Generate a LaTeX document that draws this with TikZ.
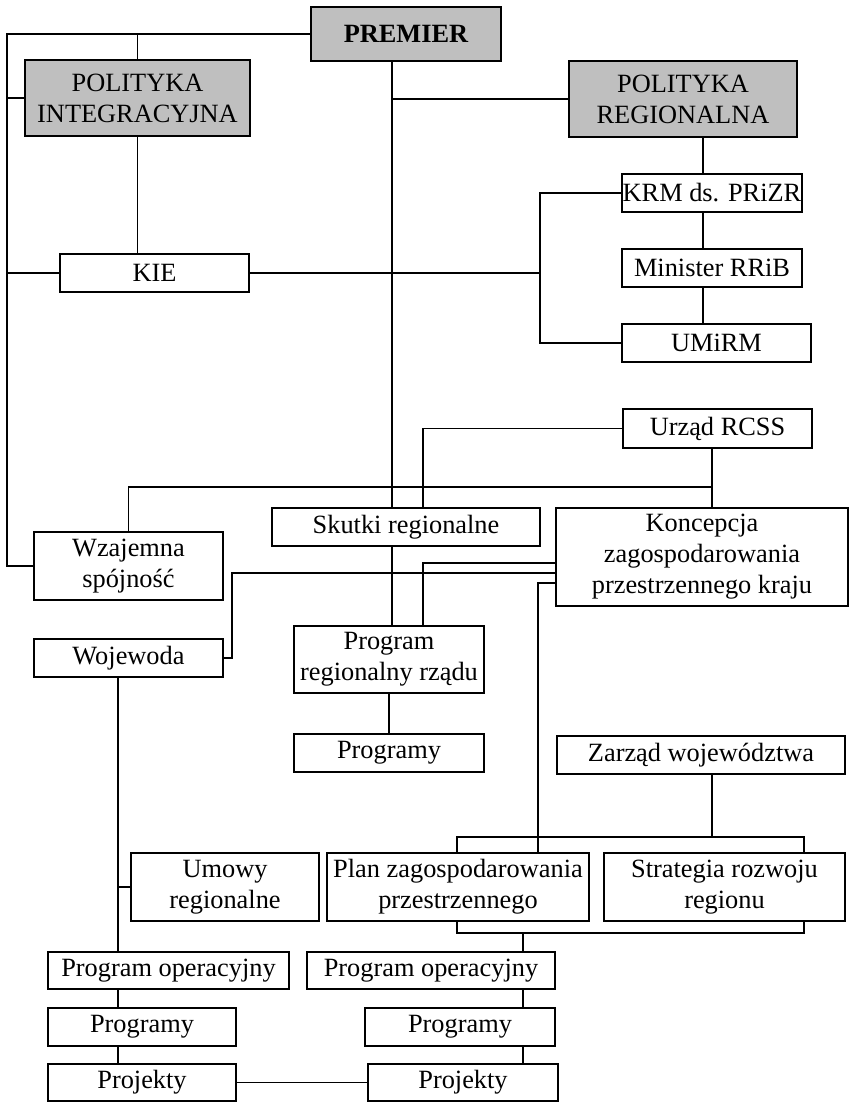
\documentclass[tikz,border=0pt]{standalone}
\usepackage{fontspec}
\setmainfont{Liberation Serif}
\usetikzlibrary{calc,positioning}

\begin{document}
\begin{tikzpicture}[x=0.02cm, y=-0.02cm, line width=0.8pt,
	org box/.style = {draw, fill=white,
                   align=center, inner sep=0pt,
                   font=\fontsize{15pt}{17.6pt}\selectfont},
	grey box/.style = {org box, fill=gray!50}
                   ]
\useasboundingbox (0,0) rectangle (849,1102);

% boxes
\node[grey box, minimum width=3.8cm, minimum height=1.08cm, font=\fontsize{15pt}{17.6pt}\selectfont\bfseries] (prem) at (406,34) {PREMIER};
\node[grey box, minimum width=4.5cm, minimum height=1.52cm] (polint) at (137.5,98) {POLITYKA\\INTEGRACYJNA};
\node[grey box, minimum width=4.56cm, minimum height=1.52cm] (polreg) at (683,99) {POLITYKA\\REGIONALNA};
\node[org box, minimum width=3.6cm, minimum height=0.76cm] (krm) at (712,193) {KRM ds. PRiZR};
\node[org box, minimum width=3.6cm, minimum height=0.76cm] (minis) at (712,268) {Minister RRiB};
\node[org box, minimum width=3.78cm, minimum height=0.76cm] (umirm) at (716.5,343) {UMiRM};
\node[org box, minimum width=3.78cm, minimum height=0.76cm] (kie) at (154.5,273) {KIE};
\node[org box, minimum width=3.78cm, minimum height=0.78cm] (rcss) at (717.5,428.5) {Urząd RCSS};
\node[org box, minimum width=5.36cm, minimum height=0.76cm] (skutki) at (406,527) {Skutki regionalne};
\node[org box, minimum width=5.84cm, minimum height=1.96cm] (konc) at (702,557) {Koncepcja\\zagospodarowania\\przestrzennego kraju};
\node[org box, minimum width=3.78cm, minimum height=1.36cm] (wzaj) at (128.5,566) {Wzajemna\\spójność};
\node[org box, minimum width=3.78cm, minimum height=0.76cm] (woj) at (128.5,658) {Wojewoda};
\node[org box, minimum width=3.8cm, minimum height=1.34cm] (prr) at (389,659.5) {Program\\regionalny rządu};
\node[org box, minimum width=3.8cm, minimum height=0.76cm] (progm) at (389,753) {Programy};
\node[org box, minimum width=5.76cm, minimum height=0.76cm] (zarz) at (701,755) {Zarząd województwa};
\node[org box, minimum width=3.76cm, minimum height=1.36cm] (umowy) at (225,887) {Umowy\\regionalne};
\node[org box, minimum width=5.24cm, minimum height=1.36cm] (plan) at (458,887) {Plan zagospodarowania\\przestrzennego};
\node[org box, minimum width=4.82cm, minimum height=1.36cm] (strat) at (724.5,887) {Strategia rozwoju\\regionu};
\node[org box, minimum width=4.82cm, minimum height=0.74cm] (opl) at (168.5,970.5) {Program operacyjny};
\node[org box, minimum width=4.96cm, minimum height=0.74cm] (opr) at (431,970.5) {Program operacyjny};
\node[org box, minimum width=3.76cm, minimum height=0.76cm] (pgl) at (142,1027) {Programy};
\node[org box, minimum width=3.8cm, minimum height=0.76cm] (pgr) at (460,1027) {Programy};
\node[org box, minimum width=3.76cm, minimum height=0.74cm] (pjl) at (142,1082.5) {Projekty};
\node[org box, minimum width=3.8cm, minimum height=0.74cm] (pjr) at (463,1082.5) {Projekty};

% vertical rails
\coordinate (lft) at (7,0);
\coordinate (pv) at (392,0);
\coordinate (sv) at (423,0);
\coordinate (kv) at (540,0);
\coordinate (mv) at (538,0);
\coordinate (rv) at (703,0);
\coordinate (cv) at (712,0);
\coordinate (wv) at (232,0);
\coordinate (lv) at (118,0);
\coordinate (ov) at (523,0);
\coordinate (hz) at (0,487);
\coordinate (ba) at (457,837);
\coordinate (bb) at (804,837);
\coordinate (ca) at (457,933);
\coordinate (cb) at (804,933);

% left frame
\draw (prem.west) -| (lft |- wzaj.west) -- (wzaj.west);
\draw (polint.north) -- (polint.north |- prem.west);
\draw (polint.west) -- (polint.west -| lft);
\draw (kie.west) -- (kie.west -| lft);
\draw (polint.south) -- (polint.south |- kie.north);

% premier line
\draw (pv |- prem.south) -- (pv |- skutki.north);
\draw (pv |- skutki.south) -- (pv |- prr.north);
\draw (polreg.west) -- (polreg.west -| pv);

% regional branch
\draw (rv |- polreg.south) -- (rv |- krm.north);
\draw (rv |- krm.south) -- (rv |- minis.north);
\draw (rv |- minis.south) -- (rv |- umirm.north);
\draw (krm.west) -| (kv |- umirm.west) -- (umirm.west);
\draw (kie.east) -- (kie.east -| kv);

% RCSS
\draw (rcss.west) -| (sv |- skutki.north);
\draw (cv |- rcss.south) -- (cv |- konc.north);
\draw (cv |- hz) -| (wzaj.north);

% koncepcja
\draw ([yshift=-0.12cm]konc.west) -| (sv |- prr.north);
\draw ([yshift=-0.32cm]konc.west) -| (wv |- woj.east) -- (woj.east);
\draw ([yshift=-0.52cm]konc.west) -| (mv |- plan.north);
\draw (prr) -- (progm);

% wojewoda
\draw (lv |- woj.south) -- (lv |- opl.north);
\draw (umowy.west) -- (umowy.west -| lv);
\draw (lv |- opl.south) -- (lv |- pgl.north);
\draw (lv |- pgl.south) -- (lv |- pjl.north);

% zarzad
\draw (cv |- zarz.south) -- (cv |- bb);
\draw (ba |- plan.north) |- (bb) -- (bb |- strat.north);
\draw (ca |- plan.south) |- (cb) -- (cb |- strat.south);
\draw (ov |- ca) -- (ov |- opr.north);
\draw (ov |- opr.south) -- (ov |- pgr.north);
\draw (ov |- pgr.south) -- (ov |- pjr.north);
\draw (pjl.east) -- (pjr.west);
\end{tikzpicture}
\end{document}
